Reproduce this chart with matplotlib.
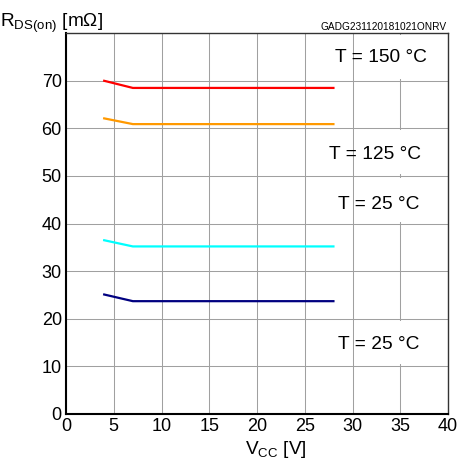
import matplotlib
matplotlib.use("Agg")
import matplotlib.pyplot as plt
from matplotlib.patches import Rectangle

plt.rcParams['font.family'] = ['Liberation Sans', 'DejaVu Sans']
plt.rcParams['mathtext.fontset'] = 'custom'
plt.rcParams['mathtext.rm'] = 'Liberation Sans'
plt.rcParams['mathtext.it'] = 'Liberation Sans'

# supply voltage sweep [V]
vcc = [4, 7, 28]

# on-resistance per curve [mOhm]
r_150 = [70.0, 68.5, 68.5]
r_125 = [62.1, 60.9, 60.9]
r_25_hi = [36.5, 35.2, 35.2]
r_25_lo = [25.1, 23.7, 23.7]

curve_colors = ["#ff0000", "#ff9900", "#00ffff", "#000080"]

labels = ["T = 150 °C", "T = 125 °C", "T = 25 °C", "T = 25 °C"]
label_pos = [(33.0, 74.8), (32.4, 54.6), (32.7, 44.1), (32.7, 14.7)]
# grid cells blanked out behind the labels (x0, x1, y0, y1)
label_cells = [(30, 40, 70, 80), (30, 40, 50, 60), (30, 40, 40, 50), (30, 40, 10, 20)]

x_ticks = list(range(0, 45, 5))
y_ticks = list(range(0, 80, 10))


def main():
    fig = plt.figure(figsize=(4.57, 4.61), dpi=100)
    ax = fig.add_axes([0.1444, 0.102, 0.836, 0.826])

    ax.set_xlim(0, 40)
    ax.set_ylim(0, 80)
    ax.set_xticks(x_ticks)
    ax.set_yticks(y_ticks)
    ax.tick_params(length=0, labelsize=13, pad=3)
    ax.set_axisbelow(True)
    ax.grid(True, color="#a0a0a0", linewidth=0.75)

    for side in ["left", "bottom"]:
        ax.spines[side].set_linewidth(1.5)
        ax.spines[side].set_color("black")
    for side in ["top", "right"]:
        ax.spines[side].set_linewidth(1.0)
        ax.spines[side].set_color("#333333")

    for x0, x1, y0, y1 in label_cells:
        ax.add_patch(Rectangle((x0 + 0.2, y0 + 0.4), x1 - x0 - 0.4, y1 - y0 - 0.8,
                               facecolor="white", edgecolor="none", zorder=1))

    for ys, c in zip([r_150, r_125, r_25_hi, r_25_lo], curve_colors):
        ax.plot(vcc, ys, color=c, linewidth=1.6, zorder=3)

    for txt, (x, y) in zip(labels, label_pos):
        ax.text(x, y, txt, ha="center", va="center", fontsize=13.8, zorder=4)

    fig.text(0.0, 0.942, r"R$_{\mathrm{DS(on)}}$ [mΩ]", fontsize=13.7, ha="left", va="baseline")
    fig.text(0.978, 0.935, "GADG231120181021ONRV", fontsize=7.3, ha="right", va="baseline")
    fig.text(0.604, 0.015, r"V$_{\mathrm{CC}}$ [V]", fontsize=13.7, ha="center", va="baseline")

    fig.savefig("out.png", dpi=100)
    plt.close(fig)


if __name__ == '__main__':
    main()
